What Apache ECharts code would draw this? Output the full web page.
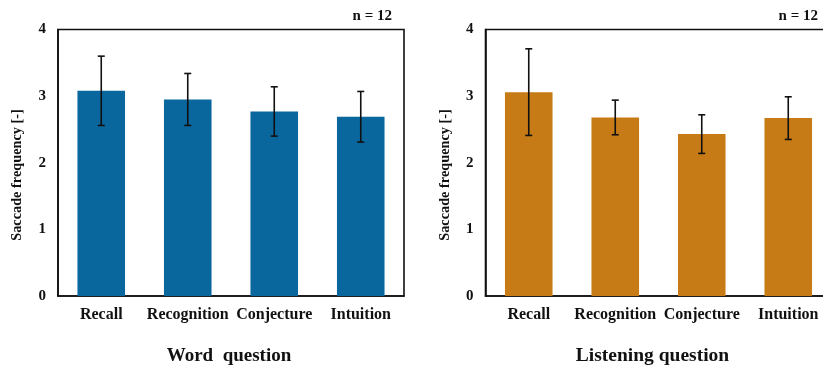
<!DOCTYPE html>
<html><head><meta charset="utf-8">
<script src="https://cdn.jsdelivr.net/npm/echarts@6/dist/echarts.min.js"></script>
<style>html,body{margin:0;padding:0;background:#fff}#c{width:823px;height:370px}</style>
</head><body><div id="c"></div>
<script>
const categories = ['Recall', 'Recognition', 'Conjecture', 'Intuition'];
const wordMean = [3.08, 2.95, 2.77, 2.69];
const wordSD = [0.52, 0.39, 0.37, 0.38];
const listenMean = [3.06, 2.68, 2.43, 2.67];
const listenSD = [0.65, 0.26, 0.29, 0.32];
const yTicks = [0, 1, 2, 3, 4];
const panelTitles = ['Word  question', 'Listening question'];
const nLabel = 'n = 12';
const yName = 'Saccade frequency [-]';

const FONT = '"Liberation Serif","Times New Roman",serif';
const colors = ['#09679d', '#c77b17'];

function errData(mean, sd) {
  return mean.map((m, i) => [i, m - sd[i], m + sd[i]]);
}
function errRender(params, api) {
  const x = api.value(0);
  const lo = api.coord([x, api.value(1)]);
  const hi = api.coord([x, api.value(2)]);
  const cap = 3.5;
  const style = {stroke: '#111', lineWidth: 1.6};
  return {type: 'group', children: [
    {type: 'line', shape: {x1: lo[0], y1: lo[1], x2: hi[0], y2: hi[1]}, style},
    {type: 'line', shape: {x1: lo[0]-cap, y1: lo[1], x2: lo[0]+cap, y2: lo[1]}, style},
    {type: 'line', shape: {x1: hi[0]-cap, y1: hi[1], x2: hi[0]+cap, y2: hi[1]}, style}
  ]};
}

const grids = [
  {left: 58, top: 29.5, width: 346, height: 266.5},
  {left: 485.5, top: 29.5, width: 346, height: 266.5}
];
const yNamePos = [[17, 175], [445, 175]];
const titlePos = [[229, 356], [652.5, 356]];
const nPos = [[392, 16], [818, 16]];

const chart = echarts.init(document.getElementById('c'), null, {renderer: 'canvas'});
const xAxis = [], yAxis = [], series = [], graphic = [];
[[wordMean, wordSD], [listenMean, listenSD]].forEach((d, k) => {
  xAxis.push({
    type: 'category', gridIndex: k, data: categories,
    axisLine: {lineStyle: {color: '#111', width: 1.6}},
    axisTick: {show: false},
    axisLabel: {color: '#111', fontFamily: FONT, fontWeight: 'bold', fontSize: 16, margin: 11, interval: 0}
  });
  yAxis.push({
    type: 'value', gridIndex: k, min: 0, max: 4, interval: 1,
    axisLine: {show: true, lineStyle: {color: '#111', width: 1.6}},
    axisTick: {show: false}, splitLine: {show: false},
    axisLabel: {color: '#111', fontFamily: FONT, fontWeight: 'bold', fontSize: 15, margin: 12,
      formatter: v => yTicks.includes(v) ? String(v) : ''}
  });
  series.push({
    type: 'bar', xAxisIndex: k, yAxisIndex: k, data: d[0], barWidth: '55%',
    itemStyle: {color: colors[k]}, silent: true
  });
  series.push({
    type: 'custom', xAxisIndex: k, yAxisIndex: k, data: errData(d[0], d[1]),
    renderItem: errRender, silent: true, z: 5
  });
  graphic.push({
    type: 'text', x: yNamePos[k][0], y: yNamePos[k][1], rotation: Math.PI / 2,
    style: {text: yName, fill: '#111', font: 'bold 14.3px ' + FONT, align: 'center', verticalAlign: 'middle'}
  });
  graphic.push({
    type: 'text', x: titlePos[k][0], y: titlePos[k][1],
    style: {text: panelTitles[k], fill: '#111', font: 'bold ' + (k ? 19.5 : 19) + 'px ' + FONT, align: 'center', verticalAlign: 'middle'}
  });
  graphic.push({
    type: 'text', x: nPos[k][0], y: nPos[k][1],
    style: {text: nLabel, fill: '#111', font: 'bold 15px ' + FONT, align: 'right', verticalAlign: 'middle'}
  });
});
chart.setOption({
  animation: false,
  grid: grids.map(g => Object.assign({show: true, borderColor: '#111', borderWidth: 1.6, backgroundColor: 'transparent', containLabel: false, outerBoundsMode: 'none'}, g)),
  xAxis, yAxis, series, graphic
});
</script></body></html>
